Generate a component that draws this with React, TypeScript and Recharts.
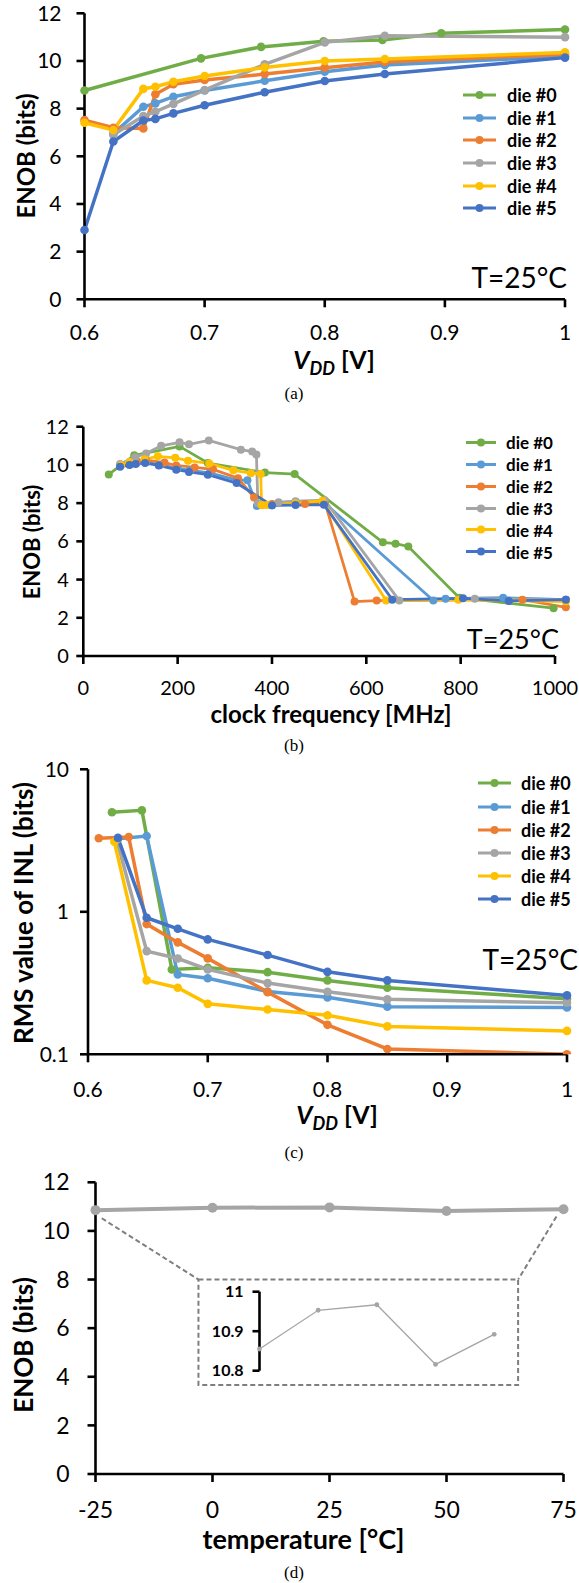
import React from 'react';
import { LineChart, Line, XAxis, YAxis, ReferenceLine, ReferenceArea } from 'recharts';

type P = [number, number];

const DIE_NAMES = ['die #0', 'die #1', 'die #2', 'die #3', 'die #4', 'die #5'];
const DIE_COLORS = ['#70AD47', '#5B9BD5', '#ED7D31', '#A5A5A5', '#FFC000', '#4472C4'];

// (a) ENOB vs VDD
const aDie0: P[] = [[0.6, 8.76], [0.697, 10.11], [0.747, 10.59], [0.799, 10.83], [0.848, 10.88], [0.897, 11.16], [1.0, 11.32]];
const aDie1: P[] = [[0.624, 6.95], [0.649, 8.08], [0.659, 8.22], [0.674, 8.5], [0.7, 8.76], [0.75, 9.17], [0.8, 9.55], [0.85, 9.83], [1.0, 10.2]];
const aDie2: P[] = [[0.6, 7.52], [0.624, 7.2], [0.649, 7.17], [0.659, 8.6], [0.674, 9.02], [0.7, 9.2], [0.75, 9.45], [0.8, 9.72], [0.85, 9.96], [1.0, 10.28]];
const aDie3: P[] = [[0.624, 6.9], [0.649, 7.69], [0.659, 7.87], [0.674, 8.2], [0.7, 8.78], [0.75, 9.86], [0.8, 10.78], [0.85, 11.06], [1.0, 11.0]];
const aDie4: P[] = [[0.6, 7.41], [0.624, 7.1], [0.649, 8.83], [0.659, 8.92], [0.674, 9.13], [0.7, 9.37], [0.75, 9.73], [0.8, 10.0], [0.85, 10.08], [1.0, 10.36]];
const aDie5: P[] = [[0.6, 2.91], [0.624, 6.62], [0.649, 7.5], [0.659, 7.57], [0.674, 7.8], [0.7, 8.14], [0.75, 8.69], [0.8, 9.16], [0.85, 9.45], [1.0, 10.14]];

// (b) ENOB vs clock frequency
const bDie0: P[] = [[54, 9.5], [108, 10.5], [204, 10.97], [264, 10.1], [385, 9.6], [448, 9.52], [635, 5.95], [662, 5.88], [689, 5.73], [797, 3.05], [997, 2.5]];
const bDie1: P[] = [[78, 10.0], [100, 10.05], [113, 10.1], [133, 10.15], [163, 10.0], [200, 9.82], [227, 9.72], [268, 9.58], [325, 9.2], [348, 9.2], [368, 7.85], [400, 7.9], [450, 7.95], [512, 8.0], [742, 2.9], [768, 3.0], [890, 3.05], [1023, 2.95]];
const bDie2: P[] = [[80, 10.0], [100, 10.1], [113, 10.2], [133, 10.25], [172, 10.12], [197, 9.97], [236, 9.87], [275, 9.77], [328, 9.3], [362, 8.3], [380, 7.9], [400, 7.95], [450, 8.0], [470, 7.95], [512, 8.05], [575, 2.85], [622, 2.9], [931, 2.95], [1023, 2.55]];
const bDie3: P[] = [[78, 10.05], [110, 10.4], [133, 10.6], [165, 11.0], [204, 11.18], [224, 11.08], [266, 11.28], [334, 10.8], [358, 10.7], [367, 10.55], [370, 8.0], [414, 8.05], [450, 8.1], [512, 8.15], [670, 2.9], [830, 3.0], [1023, 2.95]];
const bDie4: P[] = [[80, 10.0], [98, 10.15], [130, 10.3], [158, 10.45], [195, 10.37], [222, 10.22], [267, 10.08], [318, 9.72], [355, 9.57], [376, 9.53], [378, 7.9], [390, 7.9], [450, 8.0], [507, 8.12], [642, 2.9], [795, 2.95], [1023, 2.85]];
const bDie5: P[] = [[78, 9.9], [98, 10.0], [111, 10.05], [131, 10.1], [160, 9.97], [197, 9.75], [224, 9.63], [264, 9.49], [325, 9.05], [400, 7.88], [450, 7.9], [510, 7.92], [655, 2.95], [805, 3.02], [902, 2.88], [1023, 2.95]];

// (c) RMS INL vs VDD
const cDie0: P[] = [[0.62, 4.99], [0.645, 5.15], [0.67, 0.394], [0.7, 0.405], [0.75, 0.377], [0.8, 0.33], [0.85, 0.293], [1.0, 0.245]];
const cDie1: P[] = [[0.625, 3.25], [0.649, 3.4], [0.675, 0.363], [0.7, 0.342], [0.75, 0.276], [0.8, 0.251], [0.85, 0.216], [1.0, 0.213]];
const cDie2: P[] = [[0.609, 3.28], [0.634, 3.35], [0.649, 0.82], [0.675, 0.61], [0.7, 0.471], [0.75, 0.273], [0.8, 0.161], [0.85, 0.109], [1.0, 0.1]];
const cDie3: P[] = [[0.624, 3.2], [0.649, 0.53], [0.675, 0.47], [0.7, 0.394], [0.75, 0.316], [0.8, 0.275], [0.85, 0.243], [1.0, 0.23]];
const cDie4: P[] = [[0.622, 3.1], [0.649, 0.33], [0.675, 0.293], [0.7, 0.226], [0.75, 0.206], [0.8, 0.188], [0.85, 0.157], [1.0, 0.146]];
const cDie5: P[] = [[0.625, 3.3], [0.649, 0.908], [0.675, 0.76], [0.7, 0.64], [0.75, 0.497], [0.8, 0.379], [0.85, 0.33], [1.0, 0.259]];

// (d) ENOB vs temperature
const dTemp = [-25, 0, 25, 50, 75];
const dEnob = [10.855, 10.953, 10.967, 10.816, 10.892];

const enobTicks = [0, 2, 4, 6, 8, 10, 12];
const vddTicks = [0.6, 0.7, 0.8, 0.9, 1.0];
const freqTicks = [0, 200, 400, 600, 800, 1000];
const inlTicks = [0.1, 1, 10];
const tempTicks = [-25, 0, 25, 50, 75];
const insetTicks = [10.8, 10.9, 11];

const FONT = "Lato, 'Noto Sans', sans-serif";
const SERIF = "'Liberation Serif', 'DejaVu Serif', serif";

const toObj = (pts: P[]) => pts.map(([x, y]) => ({ x, y }));
const fmt1 = (v: number) => String(+v.toFixed(1));

const axisLine = { stroke: '#000', strokeWidth: 2.6 };

function Txt(props: { x: number; y: number; size: number; bold?: boolean; serif?: boolean; anchor?: 'middle' | 'end'; children: React.ReactNode }) {
  const { x, y, size, bold, serif, anchor = 'middle', children } = props;
  const tx = anchor === 'end' ? '-100%' : '-50%';
  return (
    <div
      style={{
        position: 'absolute', left: x, top: y, fontSize: size, lineHeight: 1,
        fontWeight: bold ? 700 : 400, fontFamily: serif ? SERIF : FONT, color: '#000',
        whiteSpace: 'nowrap', transform: `translate(${tx}, -50%)`,
      }}
    >
      {children}
    </div>
  );
}

function RotLabel({ x, y, size, children }: { x: number; y: number; size: number; children: React.ReactNode }) {
  return (
    <div style={{ position: 'absolute', left: x, top: y, width: 0, height: 0 }}>
      <div style={{ position: 'absolute', left: 0, top: 0, transform: 'translate(-50%, -50%) rotate(-90deg)', fontSize: size, fontWeight: 700, fontFamily: FONT, whiteSpace: 'nowrap', lineHeight: 1, color: '#000' }}>{children}</div>
    </div>
  );
}

function DieLegend({ left, top, gap, size, lineLen, textGap }: { left: number; top: number; gap: number; size: number; lineLen: number; textGap: number }) {
  return (
    <>
      {DIE_NAMES.map((n, i) => (
        <div key={n} style={{ position: 'absolute', left, top: top + i * gap, transform: 'translateY(-50%)', display: 'flex', alignItems: 'center' }}>
          <svg width={lineLen} height={10} style={{ display: 'block' }}>
            <line x1={0} y1={5} x2={lineLen} y2={5} stroke={DIE_COLORS[i]} strokeWidth={3.2} />
            <circle cx={lineLen / 2} cy={5} r={4} fill={DIE_COLORS[i]} />
          </svg>
          <span style={{ marginLeft: textGap, fontFamily: FONT, fontWeight: 700, fontSize: size, lineHeight: 1, color: '#000' }}>{n}</span>
        </div>
      ))}
    </>
  );
}

const VddLabel = () => (
  <span><i>V<sub style={{ fontSize: '0.72em', verticalAlign: '-0.3em' }}>DD</sub></i> [V]</span>
);

function dieLines(series: P[][], width: number, r: number) {
  return series.map((s, i) => (
    <Line
      key={i}
      data={toObj(s)}
      dataKey="y"
      type="linear"
      stroke={DIE_COLORS[i]}
      strokeWidth={width}
      dot={{ r, fill: DIE_COLORS[i], stroke: DIE_COLORS[i], strokeWidth: 0 }}
      activeDot={false}
      isAnimationActive={false}
    />
  ));
}

export default function App() {
  const tick21 = { fill: '#000', fontSize: 21, fontFamily: FONT };
  const tick20 = { fill: '#000', fontSize: 20, fontFamily: FONT };
  const tick23 = { fill: '#000', fontSize: 23, fontFamily: FONT };
  const dData = dTemp.map((t, i) => ({ x: t, y: dEnob[i] }));
  const insetData = dEnob.map((v, i) => ({ x: i, y: v }));

  return (
    <div style={{ position: 'absolute', left: 0, top: 0, width: 579, height: 1583, background: '#fff', overflow: 'hidden' }}>
      {/* (a) */}
      <div style={{ position: 'absolute', left: 0, top: 0 }}>
        <LineChart width={579} height={400} margin={{ top: 13.3, right: 14, bottom: 40.7, left: 0 }}>
          <XAxis dataKey="x" type="number" domain={[0.6, 1]} ticks={vddTicks} tickFormatter={fmt1} axisLine={axisLine} tickLine={axisLine} tickSize={8} tickMargin={18} tick={tick21} height={60} interval={0} />
          <YAxis type="number" domain={[0, 12]} ticks={enobTicks} axisLine={axisLine} tickLine={axisLine} tickSize={8} tickMargin={15} tick={tick21} width={84.5} interval={0} />
          {dieLines([aDie0, aDie1, aDie2, aDie3, aDie4, aDie5], 3.5, 4.3)}
        </LineChart>
      </div>
      <RotLabel x={26} y={156} size={24}>ENOB (bits)</RotLabel>
      <Txt x={334} y={362} size={25} bold><VddLabel /></Txt>
      <Txt x={294} y={393} size={17} serif>(a)</Txt>
      <DieLegend left={463} top={95} gap={22.67} size={18} lineLen={33} textGap={11} />
      <Txt x={567} y={277} size={28} anchor="end">T=25°C</Txt>

      {/* (b) */}
      <div style={{ position: 'absolute', left: 0, top: 400 }}>
        <LineChart width={579} height={340} margin={{ top: 26.7, right: 12.2, bottom: 44, left: 0 }}>
          <XAxis dataKey="x" type="number" domain={[0, 1025]} ticks={freqTicks} axisLine={false} tickLine={axisLine} tickSize={8} tickMargin={17} tick={tick20} height={40} interval={0} />
          <YAxis type="number" domain={[0, 12]} ticks={enobTicks} axisLine={axisLine} tickLine={axisLine} tickSize={7} tickMargin={7.5} tick={tick20} width={83.3} interval={0} />
          <ReferenceLine segment={[{ x: 0, y: 0 }, { x: 1000, y: 0 }]} stroke="#000" strokeWidth={2.6} ifOverflow="visible" />
          {dieLines([bDie0, bDie1, bDie2, bDie3, bDie4, bDie5], 2.8, 4)}
        </LineChart>
      </div>
      <RotLabel x={32} y={542} size={22}>ENOB (bits)</RotLabel>
      <Txt x={331} y={714} size={24} bold>clock frequency [MHz]</Txt>
      <Txt x={294} y={745} size={17} serif>(b)</Txt>
      <DieLegend left={466} top={442.3} gap={21.9} size={17} lineLen={30} textGap={10} />
      <Txt x={559} y={638} size={27} anchor="end">T=25°C</Txt>

      {/* (c) */}
      <div style={{ position: 'absolute', left: 0, top: 740 }}>
        <LineChart width={579} height={400} margin={{ top: 29.3, right: 12, bottom: 45.7, left: 0 }}>
          <XAxis dataKey="x" type="number" domain={[0.6, 1]} ticks={vddTicks} tickFormatter={fmt1} axisLine={axisLine} tickLine={axisLine} tickSize={8} tickMargin={20} tick={tick21} height={40} interval={0} />
          <YAxis type="number" scale="log" domain={[0.1, 10]} ticks={inlTicks} tickFormatter={(v: number) => String(v)} axisLine={axisLine} tickLine={axisLine} tickSize={8} tickMargin={11} tick={tick21} width={88} interval={0} allowDataOverflow />
          {dieLines([cDie0, cDie1, cDie2, cDie3, cDie4, cDie5], 3.5, 4.3)}
        </LineChart>
      </div>
      <RotLabel x={23} y={913} size={26}>RMS value of INL (bits)</RotLabel>
      <Txt x={337} y={1117} size={25} bold><VddLabel /></Txt>
      <Txt x={294} y={1152} size={17} serif>(c)</Txt>
      <DieLegend left={478} top={783.3} gap={23.2} size={18} lineLen={33} textGap={10} />
      <Txt x={578} y={959} size={28} anchor="end">T=25°C</Txt>

      {/* (d) */}
      <div style={{ position: 'absolute', left: 0, top: 1140 }}>
        <LineChart width={579} height={443} margin={{ top: 42.3, right: 15.5, bottom: 69, left: 0 }}>
          <XAxis dataKey="x" type="number" domain={[-25, 75]} ticks={tempTicks} axisLine={axisLine} tickLine={axisLine} tickSize={8} tickMargin={20} tick={tick23} height={40} interval={0} />
          <YAxis type="number" domain={[0, 12]} ticks={enobTicks} axisLine={axisLine} tickLine={axisLine} tickSize={8} tickMargin={18} tick={tick23} width={95.5} interval={0} />
          <ReferenceArea x1={-3} x2={65.3} y1={3.66} y2={8} fill="none" fillOpacity={0} stroke="#7F7F7F" strokeWidth={2} strokeDasharray="5 3" ifOverflow="visible" />
          <ReferenceLine segment={[{ x: -23.66, y: 10.52 }, { x: -3, y: 8 }]} stroke="#7F7F7F" strokeWidth={2} strokeDasharray="5 3" ifOverflow="visible" />
          <ReferenceLine segment={[{ x: 73.5, y: 10.59 }, { x: 65.3, y: 8 }]} stroke="#7F7F7F" strokeWidth={2} strokeDasharray="5 3" ifOverflow="visible" />
          <Line data={dData} dataKey="y" type="linear" stroke="#A5A5A5" strokeWidth={4} dot={{ r: 5, fill: '#A5A5A5', stroke: '#A5A5A5', strokeWidth: 0 }} activeDot={false} isAnimationActive={false} />
        </LineChart>
      </div>
      <div style={{ position: 'absolute', left: 190, top: 1270 }}>
        <LineChart width={330} height={120} margin={{ top: 21.7, right: 25.8, bottom: 19.3, left: 0 }}>
          <XAxis dataKey="x" type="number" domain={[0, 4]} hide />
          <YAxis type="number" domain={[10.8, 11]} ticks={insetTicks} tickFormatter={(v: number) => String(+v.toFixed(1))} axisLine={axisLine} tickLine={axisLine} tickSize={7} tickMargin={9} tick={{ fill: '#000', fontSize: 16, fontWeight: 700, fontFamily: FONT }} width={69.5} interval={0} />
          <Line data={insetData} dataKey="y" type="linear" stroke="#A5A5A5" strokeWidth={1.3} dot={{ r: 2.4, fill: '#A5A5A5', stroke: '#A5A5A5', strokeWidth: 0 }} activeDot={false} isAnimationActive={false} />
        </LineChart>
      </div>
      <RotLabel x={22.5} y={1345} size={26}>ENOB (bits)</RotLabel>
      <Txt x={303.5} y={1538} size={27} bold>temperature [°C]</Txt>
      <Txt x={294} y={1572} size={17} serif>(d)</Txt>
    </div>
  );
}
